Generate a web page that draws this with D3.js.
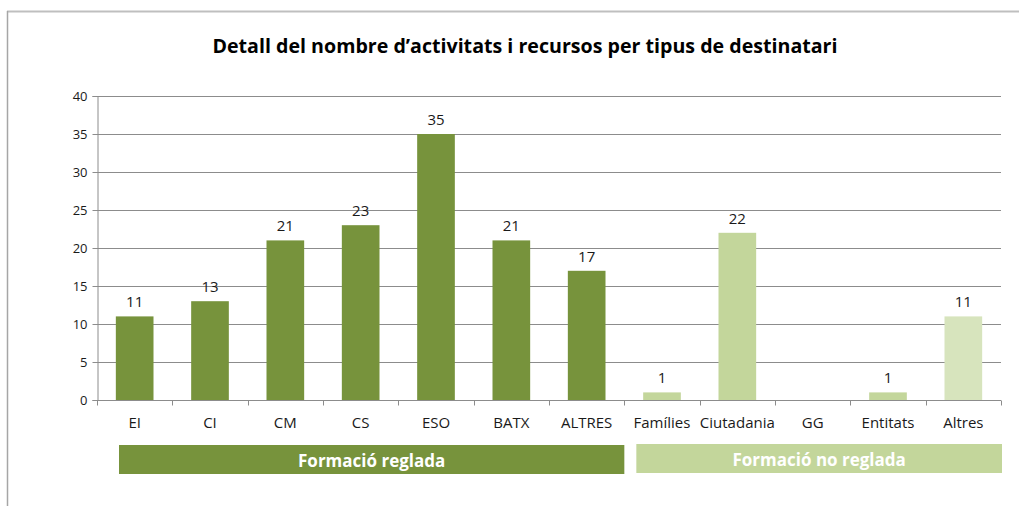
<!DOCTYPE html>
<html>
<head>
<meta charset="utf-8">
<script src="https://cdn.jsdelivr.net/npm/d3@7"></script>
<style>
  html, body { margin: 0; padding: 0; background: #fff; }
  svg { display: block; }
  text { font-family: "Open Sans", "Noto Sans", sans-serif; }
</style>
</head>
<body>
<svg id="chart" width="1019" height="506"></svg>
<script>
// Destinataris i nombre d'activitats
const categories = ["EI", "CI", "CM", "CS", "ESO", "BATX", "ALTRES", "Famílies", "Ciutadania", "GG", "Entitats", "Altres"];
const values     = [11, 13, 21, 23, 35, 21, 17, 1, 22, 0, 1, 11];
const groupOf    = ["reglada", "reglada", "reglada", "reglada", "reglada", "reglada", "reglada",
                    "noreglada", "noreglada", "noreglada", "noreglada", "altres"];
const yTicks     = [0, 5, 10, 15, 20, 25, 30, 35, 40];
const groups     = [
  { label: "Formació reglada",    from: "EI",       to: "ALTRES", key: "reglada" },
  { label: "Formació no reglada", from: "Famílies", to: "Altres", key: "noreglada" }
];
const title = "Detall del nombre d’activitats i recursos per tipus de destinatari";

const colors = { reglada: "#77933C", noreglada: "#C3D69B", altres: "#D7E4BD" };

const svg = d3.select("#chart");
const W = 1019, H = 506;
const m = { left: 97, right: 1001, top: 96, bottom: 400 };

// Chart frame
svg.append("line").attr("x1", 7).attr("x2", W).attr("y1", 11.5).attr("y2", 11.5)
  .attr("stroke", "#BFBFBF").attr("stroke-width", 2);
svg.append("line").attr("x1", 7.5).attr("x2", 7.5).attr("y1", 11).attr("y2", H)
  .attr("stroke", "#A6A6A6").attr("stroke-width", 1.5);

// Title
svg.append("text")
  .attr("x", 525).attr("y", 53)
  .attr("text-anchor", "middle")
  .attr("font-size", 19).attr("font-weight", "bold").attr("fill", "#000")
  .attr("textLength", 625).attr("lengthAdjust", "spacingAndGlyphs")
  .text(title);

const x = d3.scaleBand().domain(categories).range([m.left, m.right]).paddingInner(0.5).paddingOuter(0.25);
const xOuter = d3.scaleBand().domain(categories).range([m.left, m.right]);
const y = d3.scaleLinear().domain([0, 40]).range([m.bottom, m.top]);

// Gridlines
svg.append("g").selectAll("line").data(yTicks.filter(d => d > 0)).join("line")
  .attr("x1", m.left).attr("x2", m.right)
  .attr("y1", d => Math.round(y(d)) + 0.5).attr("y2", d => Math.round(y(d)) + 0.5)
  .attr("stroke", "#8C8C8C").attr("stroke-width", 1);

// Y axis
const yAxis = svg.append("g").attr("transform", `translate(${m.left + 0.5},0)`)
  .call(d3.axisLeft(y).tickValues(yTicks).tickSize(5).tickPadding(5));
yAxis.select(".domain").attr("stroke", "#8C8C8C");
yAxis.selectAll(".tick line").attr("stroke", "#8C8C8C");
yAxis.selectAll("text").attr("font-size", 13).attr("fill", "#1a1a1a")
  .attr("font-family", "'Open Sans', sans-serif");

// Bars
svg.append("g").selectAll("rect").data(categories).join("rect")
  .attr("x", d => x(d))
  .attr("width", x.bandwidth())
  .attr("y", (d, i) => y(values[i]))
  .attr("height", (d, i) => y(0) - y(values[i]))
  .attr("fill", (d, i) => colors[groupOf[i]]);

// Data labels
svg.append("g").selectAll("text").data(categories.filter((d, i) => values[i] > 0)).join("text")
  .attr("x", d => x(d) + x.bandwidth() / 2)
  .attr("y", d => y(values[categories.indexOf(d)]) - 9)
  .attr("text-anchor", "middle")
  .attr("font-size", 15).attr("fill", "#1a1a1a")
  .text(d => values[categories.indexOf(d)]);

// X axis with ticks between categories
const xAxisG = svg.append("g").attr("transform", `translate(0,${m.bottom + 0.5})`);
xAxisG.append("line").attr("x1", m.left).attr("x2", m.right).attr("stroke", "#8C8C8C");
const bounds = categories.map(d => xOuter(d)).concat([m.right]);
xAxisG.selectAll("line.tk").data(bounds).join("line").attr("class", "tk")
  .attr("x1", d => Math.round(d) + 0.5).attr("x2", d => Math.round(d) + 0.5)
  .attr("y1", 0).attr("y2", 5).attr("stroke", "#8C8C8C");
xAxisG.selectAll("text").data(categories).join("text")
  .attr("x", d => xOuter(d) + xOuter.bandwidth() / 2)
  .attr("y", 27)
  .attr("text-anchor", "middle")
  .attr("font-size", 15).attr("fill", "#1a1a1a")
  .text(d => d);

// Group bands below the axis
const gb = svg.append("g");
groups.forEach((g, gi) => {
  const x0 = xOuter(g.from) + (gi === 0 ? 22 : 12);
  const x1 = gi === 0 ? xOuter(g.to) + xOuter.bandwidth() : m.right + 1;
  const top = gi === 0 ? 445 : 444;
  gb.append("rect").attr("x", x0).attr("y", top).attr("width", x1 - x0).attr("height", 29)
    .attr("fill", colors[g.key]);
  gb.append("text").attr("x", (x0 + x1) / 2).attr("y", top + 22)
    .attr("text-anchor", "middle").attr("font-size", 17).attr("font-weight", "bold")
    .attr("fill", "#fff").text(g.label);
});
</script>
</body>
</html>
